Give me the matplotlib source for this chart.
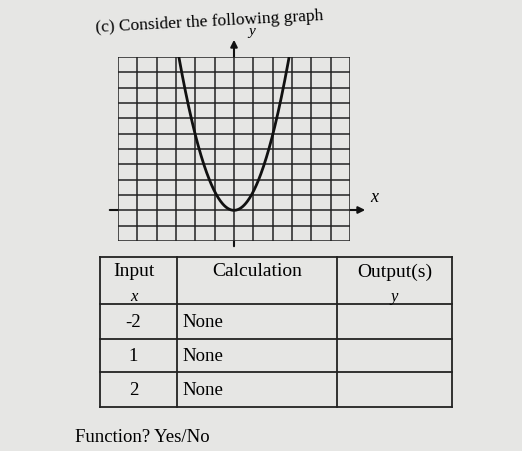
import numpy as np
import matplotlib
matplotlib.use("Agg")
import matplotlib.pyplot as plt

inputs = ["-2", "1", "2"]
calculations = ["None", "None", "None"]
outputs = ["", "", ""]
headers = ["Input", "Calculation", "Output(s)"]
subheaders = ["x", "", "y"]
curve_x = np.linspace(-2.85, 2.85, 200)
coef = 1.23

W, H = 522, 452
fig = plt.figure(figsize=(W/100, H/100), dpi=100)
fig.patch.set_facecolor("#e6e6e4")
ax = fig.add_axes([0, 0, 1, 1])
ax.set_xlim(0, W); ax.set_ylim(H, 0); ax.axis("off")
serif = "Liberation Serif"
ax.text(95, 22, "(c) Consider the following graph", fontsize=12.5, family=serif, rotation=3, va="center")

cols = [100, 177, 337, 452]
rows = [258, 305, 340, 373, 408]
for c in cols:
    ax.plot([c, c], [rows[0], rows[-1]], color="#222", lw=1.3)
for r in rows:
    ax.plot([cols[0], cols[-1]], [r, r], color="#222", lw=1.3)
cx = [(cols[i]+cols[i+1])/2 for i in range(3)]
for i, h in enumerate(headers):
    ax.text(cx[i] - (5 if i == 0 else 0), 272, h, fontsize=14, family=serif, ha="center", va="center")
    if subheaders[i]:
        ax.text(cx[i] - (5 if i == 0 else 0), 297, subheaders[i], fontsize=12, family=serif, style="italic", ha="center", va="center")
for j in range(3):
    yc = (rows[j+1]+rows[j+2])/2
    ax.text(cx[0]-5, yc, inputs[j], fontsize=13.5, family=serif, ha="center", va="center")
    ax.text(182, yc, calculations[j], fontsize=13.5, family=serif, ha="left", va="center")
    ax.text(cx[2], yc, outputs[j], fontsize=13.5, family=serif, ha="center", va="center")
ax.text(75, 438, "Function? Yes/No", fontsize=13.5, family=serif, va="center")

g = fig.add_axes([118/W, 1-242/H, 232/W, 184/H])
g.set_xlim(-6, 6); g.set_ylim(-2, 10)
g.set_facecolor("#e6e6e4")
for v in range(-6, 7):
    g.axvline(v, color="#222", lw=1.1)
for v in range(-2, 11):
    g.axhline(v, color="#222", lw=1.1)
g.plot(curve_x, coef*curve_x**2, color="#111", lw=2)
g.set_xticks([]); g.set_yticks([])
for s in g.spines.values():
    s.set_visible(False)
ax.annotate("", xy=(234, 38), xytext=(234, 250), arrowprops=dict(arrowstyle="-|>", color="#111", lw=1.5))
ax.annotate("", xy=(368, 211), xytext=(107, 211), arrowprops=dict(arrowstyle="-|>", color="#111", lw=1.5))
ax.text(248, 31, "y", fontsize=11, family=serif, style="italic", va="center")
ax.text(370, 198, "x", fontsize=13, family=serif, style="italic", va="center")

fig.savefig("out.png", dpi=100, facecolor=fig.get_facecolor())
